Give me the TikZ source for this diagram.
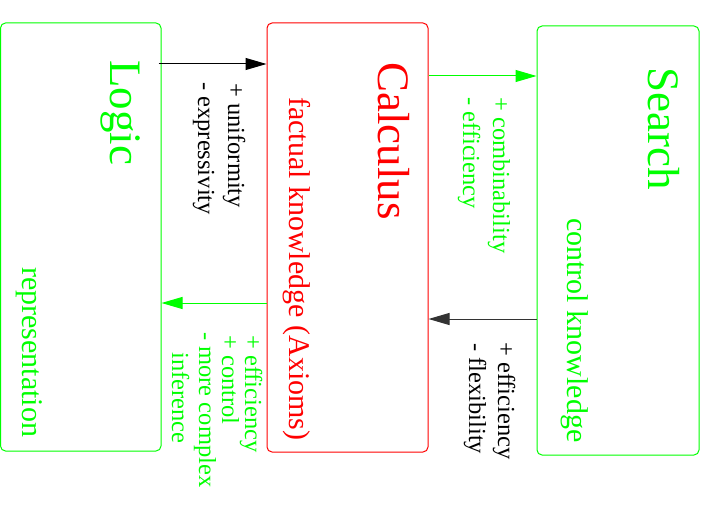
\documentclass[tikz,border=0pt]{standalone}
\usepackage{fontspec}
\setmainfont{Liberation Serif}
\usetikzlibrary{arrows.meta}
\begin{document}
\begin{tikzpicture}[x=1pt,y=-1pt,
  box/.style={draw, rectangle, rounded corners=5pt, line width=1pt, inner sep=0pt},
  arr/.style={line width=1pt, -{Triangle[length=21pt,width=12pt]}},
  lab/.style={rotate=-90, anchor=base west, inner sep=0pt},
  big/.style={lab, font=\fontsize{45}{54}\selectfont},
  mid/.style={lab, font=\fontsize{30}{36}\selectfont},
  sml/.style={lab, font=\fontsize{24.5}{29}\selectfont}]
\useasboundingbox (0,0) rectangle (704,511);
% boxes
\node[box, draw=green, minimum width=160.5pt, minimum height=428pt] (logic) at (80.75,237) {};
\node[box, draw=red, minimum width=161pt, minimum height=429pt] (calc) at (347.5,237.5) {};
\node[box, draw=green, minimum width=162pt, minimum height=429pt] (search) at (618,240.5) {};
% arrow rows
\coordinate (ya) at (0,64);
\coordinate (yb) at (0,76);
\coordinate (yc) at (0,319);
\coordinate (yd) at (0,303);
\draw[arr, black] ([xshift=-3pt]logic.east |- ya) -- (calc.west |- ya);
\draw[arr, green] (calc.east |- yb) -- (search.west |- yb);
\draw[arr, black!80] (search.west |- yc) -- (calc.east |- yc);
\draw[arr, green] (calc.west |- yd) -- (logic.east |- yd);
% titles
\node[big, text=green] (tlogic) at (110,60) {Logic};
\node[big, text=red] (tcalc) at (378,62) {Calculus};
\node[big, text=green] (tsearch) at (648,67) {Search};
\node[mid, text=red] (tfact) at (289,97) {factual knowledge (Axioms)};
\node[mid, text=green] (trep) at (23,267) {representation};
\node[mid, text=green] (tctrl) at (567,218) {control knowledge};
% labels
\node[sml, text=black] (l1a) at (228,83) {+ uniformity};
\node[sml, text=black] (l1b) at (198,82) {- expressivity};
\node[sml, text=green] (l2a) at (493,97) {+ combinability};
\node[sml, text=green] (l2b) at (463,97) {- efficiency};
\node[sml, text=black] (l3a) at (498,342) {+ efficiency};
\node[sml, text=black] (l3b) at (469,343) {- flexibility};
\node[sml, text=green] (l4a) at (245,335) {+ efficiency};
\node[sml, text=green] (l4b) at (222,335) {+ control};
\node[sml, text=green] (l4c) at (199,332) {- more complex};
\node[sml, text=green] (l4d) at (172,352) {inference};
\end{tikzpicture}
\end{document}
